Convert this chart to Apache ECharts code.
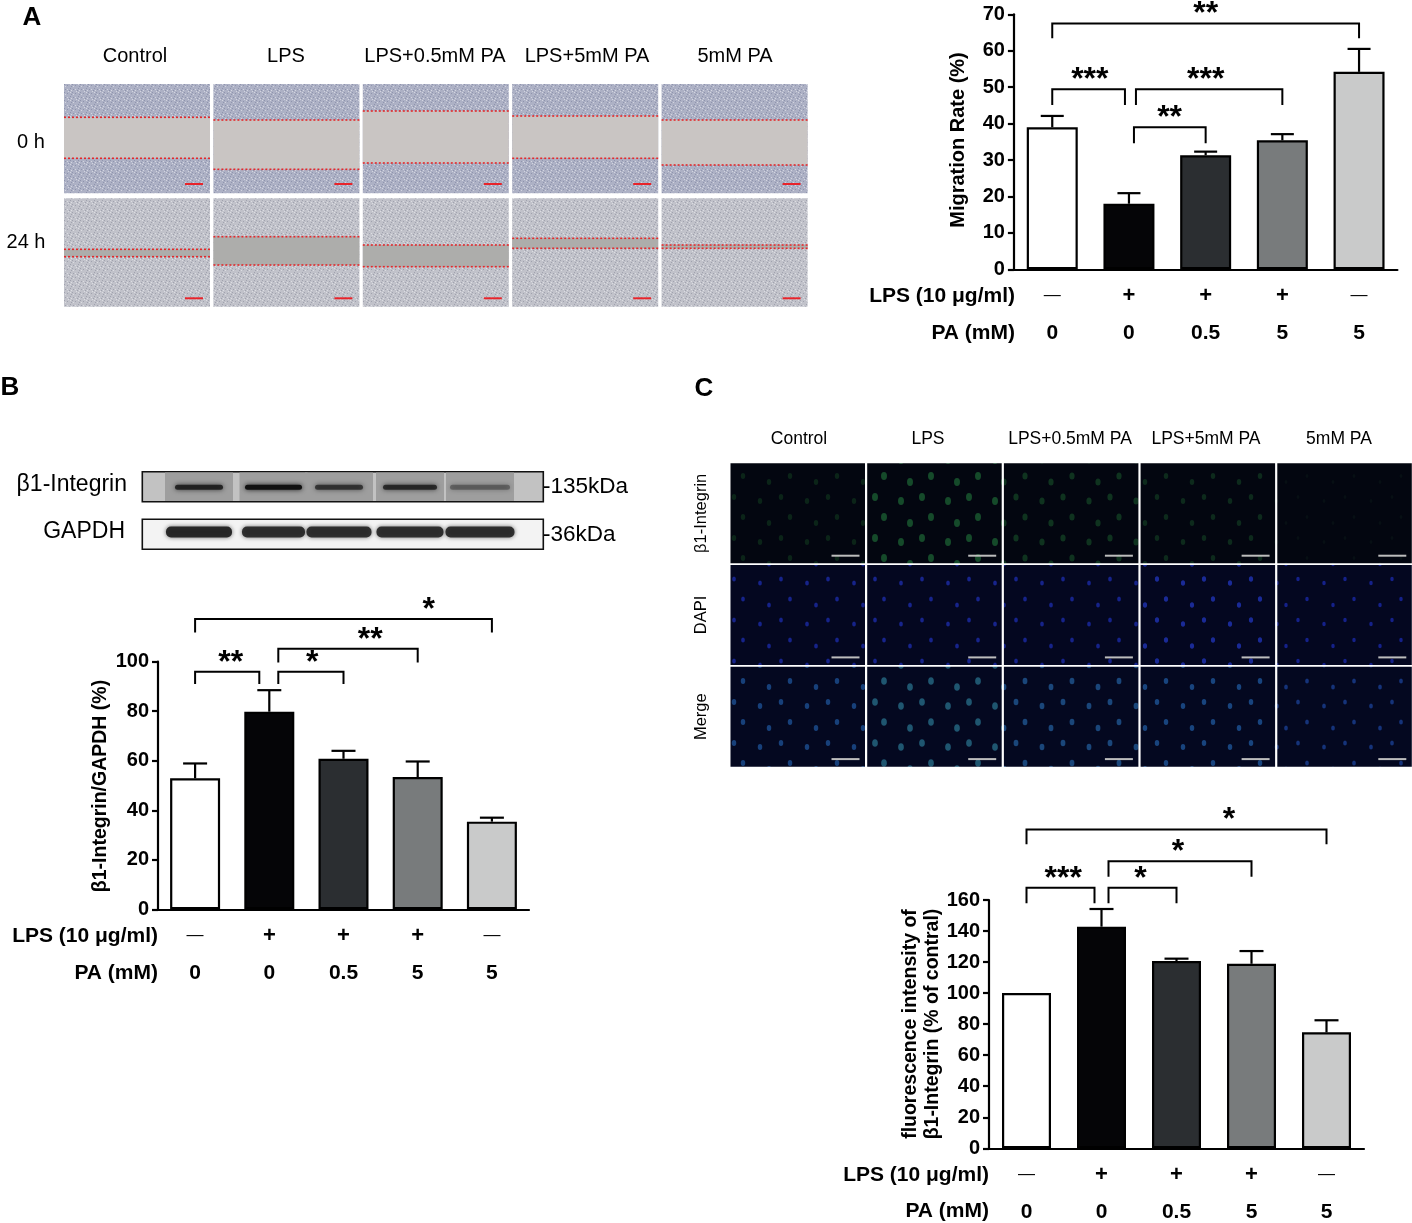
<!DOCTYPE html>
<html>
<head>
<meta charset="utf-8">
<script src="https://cdn.jsdelivr.net/npm/echarts@6/dist/echarts.min.js"></script>
<style>
  html, body { margin: 0; padding: 0; background: #ffffff; }
  #chart { width: 1412px; height: 1223px; }
</style>
</head>
<body>
<div id="chart"></div>
<script>
// ---------------- DATA ----------------
const groups = ['Control', 'LPS', 'LPS+0.5mM PA', 'LPS+5mM PA', '5mM PA'];
const lpsRow = ['—', '+', '+', '+', '—'];
const paRow = ['0', '0', '0.5', '5', '5'];

const migrationMean = [39.0, 18.0, 31.3, 35.4, 54.2];
const migrationErr  = [3.1, 2.9, 1.0, 1.7, 6.3];
const integrinMean  = [52.9, 79.8, 60.8, 53.4, 35.4];
const integrinErr   = [6.0, 8.7, 3.2, 6.3, 1.6];
const fluorMean     = [100, 142.8, 120.7, 118.9, 74.7];
const fluorErr      = [0, 11.4, 1.5, 8.2, 7.8];

const migrationTicks = { min: 0, max: 70, interval: 10 };
const integrinTicks  = { min: 0, max: 100, interval: 20 };
const fluorTicks     = { min: 0, max: 160, interval: 20 };

// significance brackets: [fromGroup, toGroup, topValue, legValue, stars, labelGroupPos]
const sigA = [[0, 4, 67.5, 63.4, '**', 2.0], [0, 1, 49.4, 45.1, '***', 0.49], [1, 3, 49.4, 45.1, '***', 2.0], [1, 2, 39.0, 34.6, '**', 1.53]];
const sigB = [[0, 4, 117.2, 111.8, '*', 3.15], [1, 3, 105.2, 99.7, '**', 2.36], [0, 1, 95.9, 91.0, '**', 0.48], [1, 2, 95.9, 91.0, '*', 1.58]];
const sigC = [[0, 4, 205.5, 195.9, '*', 2.7], [1, 3, 184.9, 175.0, '*', 2.02], [0, 1, 167.9, 157.9, '***', 0.49], [1, 2, 167.9, 157.9, '*', 1.52]];

// western blot band relative intensities (visual)
const integrinBand = [0.8, 1.0, 0.65, 0.75, 0.35];
const gapdhBand = [0.95, 0.9, 0.9, 0.9, 0.9];

// ---------------- STYLE / LAYOUT ----------------
const FONT = "'Liberation Sans', Arial, Helvetica, sans-serif";
const barColors = ['#ffffff', '#050507', '#2b2e31', '#787b7c', '#c9caca'];
const legShiftA = [[0, 0], [0, -4], [7, 0], [5, 0]];
const legShiftB = [[0, 0], [9, 0], [0, -10], [9, 0]];
const legShiftC = [[0, 0], [7, 0], [0, -7], [7, 0]];

function makeTile(base, dark, light) {
  const c = document.createElement('canvas');
  c.width = 8; c.height = 8;
  const ctx = c.getContext('2d');
  ctx.fillStyle = base; ctx.fillRect(0, 0, 8, 8);
  ctx.fillStyle = dark;
  [[1, 1], [5, 2], [3, 5], [7, 6], [0, 4], [6, 0]].forEach(p => ctx.fillRect(p[0], p[1], 1, 1));
  ctx.fillStyle = light;
  [[3, 1], [6, 4], [1, 6], [4, 3], [7, 2]].forEach(p => ctx.fillRect(p[0], p[1], 1, 1));
  return c;
}
function makeCellTile(base, dot, r) {
  const c = document.createElement('canvas');
  c.width = 47; c.height = 41;
  const ctx = c.getContext('2d');
  ctx.fillStyle = base; ctx.fillRect(0, 0, 47, 41);
  ctx.fillStyle = dot;
  [[8, 9], [29, 5], [38, 25], [17, 31]].forEach(p => {
    ctx.beginPath(); ctx.ellipse(p[0], p[1], r * 0.75, r, 0, 0, Math.PI * 2); ctx.fill();
  });
  return c;
}
const tile0h = makeTile('#adb1c5', '#8f94ad', '#d3d5e0');
const tile24h = makeTile('#c1c2ca', '#a0a2ae', '#dcdde2');

const chart = echarts.init(document.getElementById('chart'), null, { renderer: 'canvas' });

function xAxisDef(gi) {
  return {
    type: 'category', gridIndex: gi, data: groups,
    axisLine: { lineStyle: { color: '#000', width: 2.2 } },
    axisTick: { alignWithLabel: true, length: 7, lineStyle: { color: '#000', width: 2.2 } },
    axisLabel: {
      interval: 0, margin: 7.5, color: '#000',
      formatter: (v, i) => (lpsRow[i] === '—' ? '{d|—}' : '{p|+}') + '\n{n|' + paRow[i] + '}',
      rich: {
        d: { fontSize: 17, fontWeight: 'normal', fontFamily: FONT, lineHeight: 37.5, color: '#000' },
        p: { fontSize: 22, fontWeight: 'bold', fontFamily: FONT, lineHeight: 37.5, color: '#000' },
        n: { fontSize: 21, fontWeight: 'bold', fontFamily: FONT, lineHeight: 37.5, color: '#000' }
      }
    }
  };
}
function yAxisDef(gi, t) {
  return {
    type: 'value', gridIndex: gi, min: t.min, max: t.max, interval: t.interval,
    axisLine: { show: true, lineStyle: { color: '#000', width: 2.2 } },
    axisTick: { show: true, length: 6, lineStyle: { color: '#000', width: 2.2 } },
    splitLine: { show: false },
    axisLabel: { color: '#000', fontSize: 20, fontWeight: 'bold', fontFamily: FONT, margin: 9 }
  };
}
function barSeries(gi, means, bw) {
  return {
    type: 'bar', xAxisIndex: gi, yAxisIndex: gi, barWidth: bw, z: 3,
    data: means.map((v, i) => ({ value: v, itemStyle: { color: barColors[i] } })),
    itemStyle: { borderColor: '#000', borderWidth: 2.2 }
  };
}
function errSeries(gi, means, errs, capHalf) {
  return {
    type: 'custom', xAxisIndex: gi, yAxisIndex: gi, z: 5,
    data: means.map((m, i) => [i, m, m + errs[i]]),
    renderItem: (params, api) => {
      if (api.value(2) <= api.value(1)) return null;
      const p0 = api.coord([api.value(0), api.value(1)]);
      const p1 = api.coord([api.value(0), api.value(2)]);
      return {
        type: 'group', children: [
          { type: 'line', shape: { x1: p0[0], y1: p0[1], x2: p1[0], y2: p1[1] }, style: { stroke: '#000', lineWidth: 2.2 } },
          { type: 'line', shape: { x1: p1[0] - capHalf, y1: p1[1], x2: p1[0] + capHalf, y2: p1[1] }, style: { stroke: '#000', lineWidth: 2.2 } }
        ]
      };
    }
  };
}
function sigSeries(gi, sig, shifts) {
  return {
    type: 'custom', xAxisIndex: gi, yAxisIndex: gi, z: 6, clip: false,
    data: sig.map(b => [b[0], b[2]]),
    renderItem: (params, api) => {
      const b = sig[params.dataIndex], s = shifts[params.dataIndex];
      const L = api.coord([b[0], b[2]]), R = api.coord([b[1], b[2]]);
      const Lb = api.coord([b[0], b[3]]);
      const c0 = api.coord([0, b[2]]), c1 = api.coord([1, b[2]]);
      const lx = c0[0] + (c1[0] - c0[0]) * b[5];
      const xl = L[0] + s[0], xr = R[0] + s[1];
      return {
        type: 'group', children: [
          { type: 'polyline', shape: { points: [[xl, Lb[1]], [xl, L[1]], [xr, L[1]], [xr, Lb[1]]] },
            style: { stroke: '#000', lineWidth: 2, fill: null } },
          { type: 'text', x: lx, y: L[1] + 7,
            style: { text: b[4], fill: '#000', font: 'bold 32px ' + FONT, align: 'center', verticalAlign: 'bottom' } }
        ]
      };
    }
  };
}

// ---------------- GRAPHIC DECORATION ----------------
const G = [];
function txt(x, y, s, size, opt) {
  opt = opt || {};
  G.push({
    type: 'text', x: x, y: y, rotation: opt.rot || 0, z: 10,
    style: { text: s, fill: '#000', font: (opt.bold ? 'bold ' : '') + size + 'px ' + FONT,
      align: opt.align || 'center', verticalAlign: 'middle', lineHeight: opt.lh || size * 1.2 }
  });
}
// panel letters
txt(32, 18, 'A', 26, { bold: true });
txt(10, 388, 'B', 26, { bold: true });
txt(704, 389, 'C', 26, { bold: true });

// ---- Panel A scratch images ----
const aColX = [64, 213.4, 362.8, 512.2, 661.6];
const aColLabelX = [135, 286, 435, 587, 735];
const aRowY = [84, 198.3];
const aRowH = [109.3, 108.4];
const wound0 = [[33.3, 74.3], [36, 85.3], [27, 79], [32, 74.3], [36, 81]];
const wound24 = [[51, 58.4], [38.4, 66.7], [46.7, 68.4], [40, 50], [46.7, 50]];
groups.forEach((g, i) => txt(aColLabelX[i], 56, g, 20));
txt(31, 142, '0 h', 20);
txt(26, 242, '24 h', 20);
[wound0, wound24].forEach((wd, r) => {
  aColX.forEach((x, i) => {
    const y0 = aRowY[r], h = aRowH[r];
    G.push({ type: 'rect', z: 1, shape: { x: x, y: y0, width: 146, height: h },
      style: { fill: { image: r === 0 ? tile0h : tile24h, repeat: 'repeat' } } });
    const t = wd[i][0], b = wd[i][1];
    G.push({ type: 'rect', z: 2, shape: { x: x, y: y0 + t, width: 146, height: b - t },
      style: { fill: r === 0 ? '#c9c5c3' : '#adadab' } });
    [t, b].forEach(o => G.push({ type: 'line', z: 3, shape: { x1: x, y1: y0 + o, x2: x + 146, y2: y0 + o },
      style: { stroke: '#e3292b', lineWidth: 1.6, lineDash: [2, 2] } }));
    G.push({ type: 'line', z: 3, shape: { x1: x + 121, y1: y0 + 100, x2: x + 139, y2: y0 + 100 },
      style: { stroke: '#e8232a', lineWidth: 2 } });
  });
});

// ---- Panel B western blot ----
const laneX = [199, 273.5, 339, 410, 480];
const bandW1 = [48, 57, 48, 54, 60];
const bandW2 = [66, 63, 65, 67, 69];
G.push({ type: 'rect', z: 1, shape: { x: 142.3, y: 471.7, width: 401, height: 30 },
  style: { fill: '#c2c2c2', stroke: '#111', lineWidth: 1.6 } });
laneX.forEach((x, i) => {
  G.push({ type: 'rect', z: 2, shape: { x: x - 34, y: 472.5, width: 68, height: 28.5 }, style: { fill: '#9e9e9e' } });
  G.push({ type: 'rect', z: 3, shape: { x: x - bandW1[i] / 2, y: 484.8, width: bandW1[i], height: 5, r: 2.5 },
    style: { fill: '#111', opacity: integrinBand[i], shadowBlur: 5, shadowColor: 'rgba(0,0,0,0.8)' } });
});
G.push({ type: 'rect', z: 1, shape: { x: 142.3, y: 519.3, width: 401, height: 30 },
  style: { fill: '#f3f3f3', stroke: '#111', lineWidth: 1.6 } });
laneX.forEach((x, i) => {
  G.push({ type: 'rect', z: 3, shape: { x: x - bandW2[i] / 2, y: 526.5, width: bandW2[i], height: 11, r: 5 },
    style: { fill: '#222', opacity: gapdhBand[i], shadowBlur: 4, shadowColor: 'rgba(0,0,0,0.6)' } });
});
txt(127, 485, 'β1-Integrin', 23, { align: 'right' });
txt(125, 532, 'GAPDH', 23, { align: 'right' });
txt(543, 486.7, '-135kDa', 22.5, { align: 'left' });
txt(543, 535, '-36kDa', 22.5, { align: 'left' });

// ---- Panel C fluorescence images ----
const cColX = [730.5, 867.2, 1003.9, 1140.6, 1277.3];
const cColLabelX = [799, 928, 1070, 1206, 1339];
const cRowY = [463.3, 565, 666.7];
const cRowNames = ['β1-Integrin', 'DAPI', 'Merge'];
const cBase = ['#030610', '#040720', '#040820'];
const cDot = [
  ['#0b2418', '#154a2a', '#0f331f', '#0d2a1c', '#070f14'],
  ['#16238a', '#17248c', '#16238a', '#1a2a96', '#15218a'],
  ['#17407a', '#1f5670', '#1a467a', '#18447e', '#15337a']
];
const cDotR = [[3, 4, 3.5, 3, 2], [2.5, 2.5, 2.5, 2.8, 2.3], [3, 3.8, 3.2, 3, 2.5]];
groups.forEach((g, i) => txt(cColLabelX[i], 439, g, 17.5));
cRowY.forEach((y, r) => {
  txt(701, y + 50, cRowNames[r], 16.5, { rot: Math.PI / 2 });
  cColX.forEach((x, i) => {
    G.push({ type: 'rect', z: 1, shape: { x: x, y: y, width: 134.5, height: 100 },
      style: { fill: { image: makeCellTile(cBase[r], cDot[r][i], cDotR[r][i]), repeat: 'repeat' } } });
    G.push({ type: 'line', z: 2, shape: { x1: x + 101, y1: y + 92.4, x2: x + 129, y2: y + 92.4 },
      style: { stroke: '#bdbdbd', lineWidth: 2 } });
  });
});

// ---- chart titles & row labels ----
txt(958, 140, 'Migration Rate (%)', 20, { bold: true, rot: Math.PI / 2 });
txt(101, 786, 'β1-Integrin/GAPDH (%)', 19.5, { bold: true, rot: Math.PI / 2 });
txt(922, 1024, 'fluorescence intensity of\nβ1-Integrin (% of contral)', 19.5, { bold: true, rot: Math.PI / 2, lh: 22 });
txt(1015, 296, 'LPS (10 μg/ml)', 21, { bold: true, align: 'right' });
txt(1015, 333, 'PA (mM)', 21, { bold: true, align: 'right' });
txt(158, 936, 'LPS (10 μg/ml)', 21, { bold: true, align: 'right' });
txt(158, 973.3, 'PA (mM)', 21, { bold: true, align: 'right' });
txt(989, 1175, 'LPS (10 μg/ml)', 21, { bold: true, align: 'right' });
txt(989, 1211.7, 'PA (mM)', 21, { bold: true, align: 'right' });

// ---------------- OPTION ----------------
const option = {
  animation: false,
  backgroundColor: '#ffffff',
  grid: [
    { left: 1013.9, top: 14.3, width: 383.5, height: 255 },
    { left: 158, top: 661.7, width: 371, height: 247.6 },
    { left: 989, top: 900, width: 375, height: 248.3 }
  ],
  xAxis: [xAxisDef(0), xAxisDef(1), xAxisDef(2)],
  yAxis: [yAxisDef(0, migrationTicks), yAxisDef(1, integrinTicks), yAxisDef(2, fluorTicks)],
  series: [
    barSeries(0, migrationMean, 51), errSeries(0, migrationMean, migrationErr, 11.5), sigSeries(0, sigA, legShiftA),
    barSeries(1, integrinMean, 50), errSeries(1, integrinMean, integrinErr, 12), sigSeries(1, sigB, legShiftB),
    barSeries(2, fluorMean, 49), errSeries(2, fluorMean, fluorErr, 12), sigSeries(2, sigC, legShiftC)
  ],
  graphic: { elements: G }
};
chart.setOption(option);
</script>
</body>
</html>
